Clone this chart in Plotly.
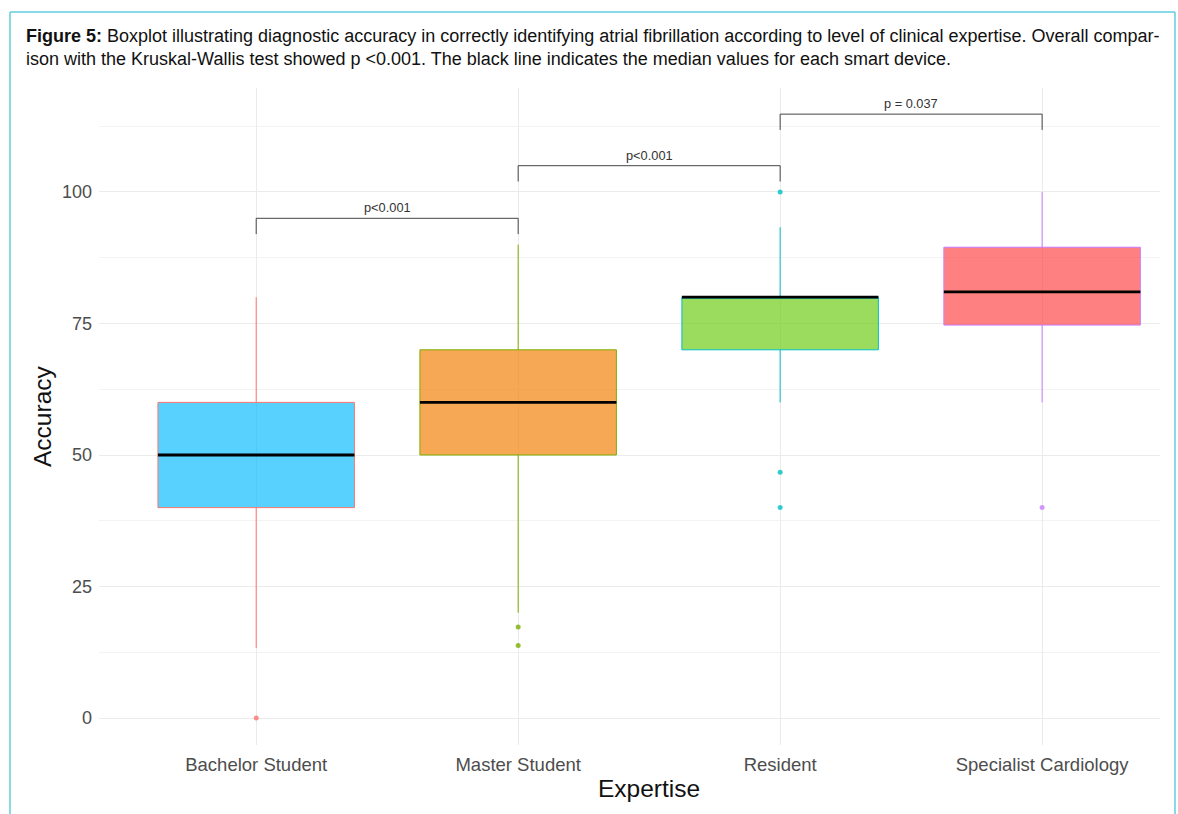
import plotly.graph_objects as go

categories = ["Bachelor Student", "Master Student", "Resident", "Specialist Cardiology"]
q1 = [40, 50, 70, 74.7]
median = [50, 60, 80, 81]
q3 = [60, 70, 80, 89.5]
lower_whisker = [13.3, 20, 60, 60]
upper_whisker = [80, 90, 93.3, 100]
outliers = [[0], [17.3, 13.8], [100, 46.7, 40], [40]]

fill_colors = ["rgba(0,185,255,0.65)", "rgba(243,134,18,0.72)", "rgba(112,205,25,0.70)", "rgba(255,60,60,0.65)"]
line_colors = ["#F8766D", "#7CAE00", "#00BFC4", "#C77CFF"]

brackets = [(0, 1, 95, "p<0.001"), (1, 2, 105, "p<0.001"), (2, 3, 114.8, "p = 0.037")]
bracket_drop = 3

fig = go.Figure()
for i, c in enumerate(categories):
    fig.add_trace(go.Box(
        x=[i], q1=[q1[i]], median=[median[i]], q3=[q3[i]],
        lowerfence=[lower_whisker[i]], upperfence=[upper_whisker[i]],
        fillcolor=fill_colors[i], line=dict(color=line_colors[i], width=1),
        width=0.75, whiskerwidth=0, boxpoints=False, showlegend=False, hoverinfo="skip"))
    fig.add_trace(go.Scatter(
        x=[i - 0.375, i + 0.375], y=[median[i], median[i]], mode="lines",
        line=dict(color="black", width=2.8), showlegend=False, hoverinfo="skip"))
    fig.add_trace(go.Scatter(
        x=[i] * len(outliers[i]), y=outliers[i], mode="markers",
        marker=dict(color=line_colors[i], size=5, opacity=0.8), showlegend=False, hoverinfo="skip"))

for a, b, yv, lab in brackets:
    fig.add_trace(go.Scatter(
        x=[a, a, b, b], y=[yv - bracket_drop, yv, yv, yv - bracket_drop], mode="lines",
        line=dict(color="#444444", width=1), showlegend=False, hoverinfo="skip"))
    fig.add_annotation(x=(a + b) / 2, y=yv, text=lab, showarrow=False, yanchor="bottom", yshift=1,
                       font=dict(family="Liberation Sans, Arial", size=12.8, color="#333333"))

L, R, T, B = 99, 18, 88, 69
W, H = 1178, 814
pw, ph = W - L - R, H - T - B

def px_x(px):
    return (px - L) / pw

def px_y(py):
    return (H - B - py) / ph

fig.add_annotation(
    xref="paper", yref="paper", x=px_x(24), y=px_y(24), xanchor="left", yanchor="top", align="left",
    showarrow=False,
    text="<b>Figure 5:</b> Boxplot illustrating diagnostic accuracy in correctly identifying atrial fibrillation according to level of clinical expertise. Overall compar-<br>ison with the Kruskal-Wallis test showed p &lt;0.001. The black line indicates the median values for each smart device.",
    font=dict(family="Liberation Sans, Arial", size=18, color="#111111"))

fig.add_annotation(xref="paper", yref="paper", x=px_x(649), y=px_y(788), xanchor="center", yanchor="middle",
                   showarrow=False, text="Expertise",
                   font=dict(family="Liberation Sans, Arial", size=24.5, color="#111111"))
fig.add_annotation(xref="paper", yref="paper", x=px_x(42), y=px_y(416), xanchor="center", yanchor="middle",
                   showarrow=False, text="Accuracy", textangle=-90,
                   font=dict(family="Liberation Sans, Arial", size=24.5, color="#111111"))

frame_color = "#5FCEDE"
fig.add_shape(type="line", xref="paper", yref="paper", x0=px_x(10), x1=px_x(1175), y0=px_y(12), y1=px_y(12),
              line=dict(color=frame_color, width=1.5))
fig.add_shape(type="line", xref="paper", yref="paper", x0=px_x(10), x1=px_x(10), y0=px_y(12), y1=px_y(820),
              line=dict(color=frame_color, width=1.5))
fig.add_shape(type="line", xref="paper", yref="paper", x0=px_x(1175), x1=px_x(1175), y0=px_y(12), y1=px_y(820),
              line=dict(color=frame_color, width=1.5))

fig.update_layout(
    width=W, height=H, margin=dict(l=L, r=R, t=T, b=B),
    plot_bgcolor="white", paper_bgcolor="white",
    font=dict(family="Liberation Sans, Arial"),
    xaxis=dict(range=[-0.6, 3.45], tickvals=list(range(len(categories))), ticktext=categories,
               showgrid=True, gridcolor="#EBEBEB", gridwidth=1, zeroline=False, showline=False, ticks="",
               tickfont=dict(size=18.5, color="#4D4D4D"), ticklabelstandoff=6),
    yaxis=dict(range=[-5.13, 119.77], tickvals=[0, 25, 50, 75, 100],
               showgrid=True, gridcolor="#EBEBEB", gridwidth=1, zeroline=False, showline=False, ticks="",
               tickfont=dict(size=18, color="#4D4D4D"), ticklabelstandoff=6,
               minor=dict(tickvals=[12.5, 37.5, 62.5, 87.5, 112.5], showgrid=True, gridcolor="#F3F3F3", gridwidth=1)),
)

fig.write_html("out.html")
